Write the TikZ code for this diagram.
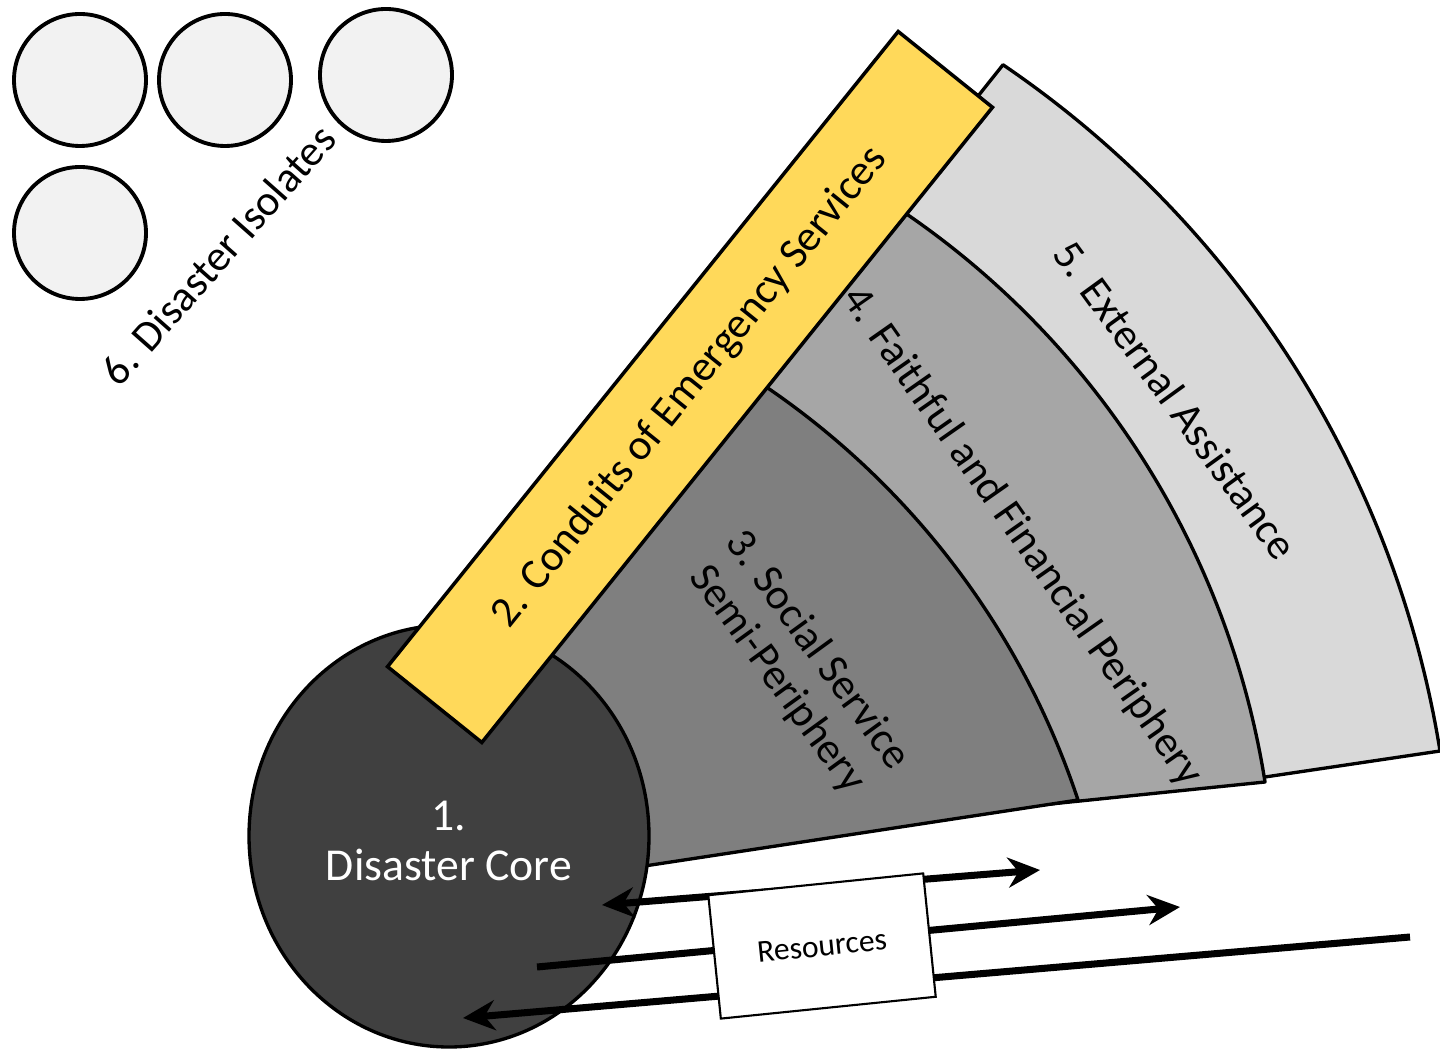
\documentclass[tikz,border=0pt]{standalone}
\usepackage{fontspec}
\setmainfont{Carlito}
\usetikzlibrary{arrows.meta,shapes.geometric}
\definecolor{coreGray}{HTML}{404040}
\definecolor{socialGray}{HTML}{7F7F7F}
\definecolor{faithGray}{HTML}{A6A6A6}
\definecolor{externalGray}{HTML}{D9D9D9}
\definecolor{isoGray}{HTML}{F2F2F2}
\definecolor{conduitYellow}{HTML}{FFD95A}

\begin{document}
\begin{tikzpicture}[x=0.1mm,y=0.1mm,
  sector/.style={draw,line width=0.95pt,line join=round},
  lbl/.style={font=\fontsize{12.3}{14}\selectfont,align=center},
  isolate/.style={circle,draw,line width=1.1pt,fill=isoGray,minimum size=13.2mm,inner sep=0pt},
  flow/.style={line width=2pt},
  >={Stealth[length=3.2mm,width=3mm]}]
\useasboundingbox (0,0) rectangle (1440,-1051);
% the fan, outermost first
\draw[sector,fill=externalGray] (600,-840) -- (1000,-790) -- (1265,-777) -- (1440,-751)
  arc[start angle=9.18,end angle=55.8,radius=1028] -- (959,-120) -- (470,-700) -- cycle;
\draw[sector,fill=faithGray] (600,-850) -- (1080,-801) -- (1265,-782)
  arc[start angle=9,end angle=60,radius=850.5] -- (470,-700) -- cycle;
\draw[sector,fill=socialGray] (500,-888) -- (1078,-800)
  arc[start angle=18.35,end angle=60,radius=807] -- (470,-700) -- cycle;
\node[lbl,rotate=-54] (socialLabel) at (797,-665) {3. Social Service\\Semi-Periphery};
\node[lbl,rotate=-55] (faithLabel) at (1022,-537) {4. Faithful and Financial Periphery};
\node[lbl,rotate=-54] (externalLabel) at (1176,-400) {5. External Assistance};
% core and conduits
\node[ellipse,draw,line width=0.95pt,fill=coreGray,minimum width=40mm,minimum height=42.2mm,inner sep=0pt,
  label={[text=white,font=\fontsize{13}{14.2}\selectfont,align=center,yshift=-0.5mm]center:1.\\Disaster Core}]
  (core) at (449,-836) {};
\node[lbl,draw,line width=1pt,fill=conduitYellow,rotate=51.2,minimum width=81.5mm,minimum height=12.1mm,
  inner sep=0pt] (conduits) at (690,-387) {2. Conduits of Emergency Services};
% resource flows
\coordinate (inOne) at (602,-905);
\coordinate (outOne) at (1040,-870);
\coordinate (inTwo) at (537,-967);
\coordinate (outTwo) at (1180,-907);
\coordinate (inThree) at (463,-1018);
\coordinate (outThree) at (1410,-937);
\draw[flow,<->] (inOne) -- (outOne);
\draw[flow,->] (inTwo) -- (outTwo);
\draw[flow,<-] (inThree) -- (outThree);
\node[draw,fill=white,line width=0.6pt,rotate=5.8,minimum width=21.6mm,minimum height=12.4mm,
  font=\fontsize{9}{10}\selectfont] (resources) at (822,-946) {Resources};
% isolates
\node[isolate] (isoOne) at (80,-80) {};
\node[isolate] (isoTwo) at (225,-80) {};
\node[isolate] (isoThree) at (386,-75) {};
\node[isolate] (isoFour) at (80,-233) {};
\node[lbl,rotate=48.5] (isoLabel) at (218,-255) {6. Disaster Isolates};
\end{tikzpicture}
\end{document}
